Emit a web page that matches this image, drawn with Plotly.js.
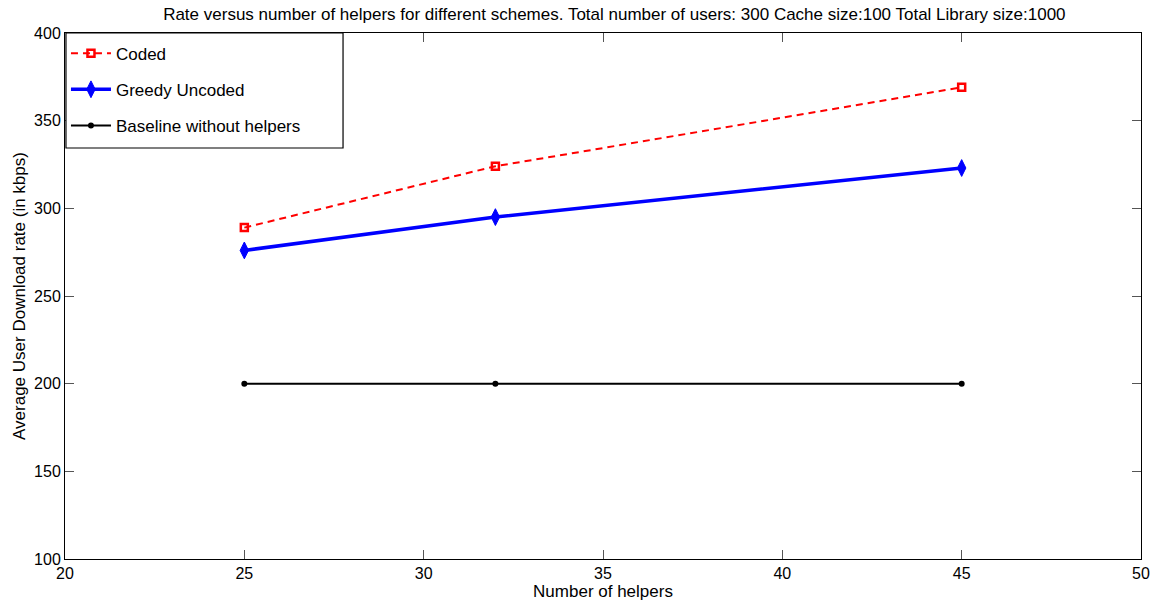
<!DOCTYPE html>
<html>
<head>
<meta charset="utf-8">
<script src="https://cdn.plot.ly/plotly-3.0.1.min.js"></script>
<style>
  html, body { margin: 0; padding: 0; background: #ffffff; }
  #chart { width: 1157px; height: 606px; }
</style>
</head>
<body>
<div id="chart"></div>
<script>
// Number of helpers on the x axis
const helpers = [25, 32, 45];

// Average user download rate (kbps) per scheme
const codedRate = [289, 324, 369];
const greedyUncodedRate = [276, 295, 323];
const baselineRate = [200, 200, 200];

const xTicks = [20, 25, 30, 35, 40, 45, 50];
const yTicks = [100, 150, 200, 250, 300, 350, 400];

const FONT = 'Liberation Sans, Arial, Helvetica, sans-serif';

const traces = [
  {
    x: helpers, y: codedRate, name: 'Coded', mode: 'lines+markers', legendgroup: 'a',
    line: { color: '#ff0000', width: 2, dash: '7px,5px' },
    marker: { symbol: 'square-open', size: 7, color: '#ff0000', line: { width: 2.5, color: '#ff0000' } }
  },
  {
    x: helpers, y: greedyUncodedRate, name: 'Greedy Uncoded', mode: 'lines+markers', legendgroup: 'b',
    line: { color: '#0000ff', width: 3.5 },
    marker: { symbol: 'diamond-tall', size: 12, color: '#0000ff', line: { width: 1, color: '#0000ff' } }
  },
  {
    x: helpers, y: baselineRate, name: 'Baseline without helpers', mode: 'lines+markers', legendgroup: 'c',
    line: { color: '#000000', width: 2 },
    marker: { symbol: 'circle', size: 6, color: '#000000' }
  }
];

const axisCommon = {
  showgrid: false, zeroline: false,
  showline: true, linecolor: '#000000', linewidth: 1, mirror: 'ticks',
  ticks: 'inside', ticklen: 9, tickwidth: 1, tickcolor: '#555555',
  tickfont: { family: FONT, size: 16, color: '#000000' }
};

const layout = {
  width: 1157, height: 606,
  margin: { l: 65, r: 16, t: 33, b: 47 },
  paper_bgcolor: '#ffffff', plot_bgcolor: '#ffffff',
  font: { family: FONT, color: '#000000' },
  title: {
    text: 'Rate versus number of helpers for different schemes. Total number of users: 300 Cache size:100 Total Library size:1000',
    font: { family: FONT, size: 17, color: '#000000' },
    x: 0.531, xanchor: 'center', y: 0.977, yanchor: 'middle'
  },
  xaxis: Object.assign({}, axisCommon, {
    range: [20, 50], tickvals: xTicks, ticktext: xTicks.map(String),
    title: { text: 'Number of helpers', font: { family: FONT, size: 17 }, standoff: 0 }
  }),
  yaxis: Object.assign({}, axisCommon, {
    range: [100, 400], tickvals: yTicks, ticktext: yTicks.map(String),
    title: { text: 'Average User Download rate (in kbps)', font: { family: FONT, size: 17 }, standoff: 4 }
  }),
  // legend frame drawn as a shape so its size can be set
  shapes: [{
    type: 'rect', xref: 'paper', yref: 'paper', layer: 'above',
    x0: 0.0009, x1: 0.2584, y0: 0.7814, y1: 1,
    fillcolor: '#ffffff', line: { color: '#000000', width: 1.2 }
  }],
  legend: {
    x: 0.0009, y: 0.995, xanchor: 'left', yanchor: 'top',
    bgcolor: 'rgba(0,0,0,0)', borderwidth: 0,
    font: { family: FONT, size: 17, color: '#000000' },
    tracegroupgap: 11, itemwidth: 40
  },
  showlegend: true
};

Plotly.newPlot('chart', traces, layout, { displayModeBar: false, staticPlot: true });
</script>
</body>
</html>
